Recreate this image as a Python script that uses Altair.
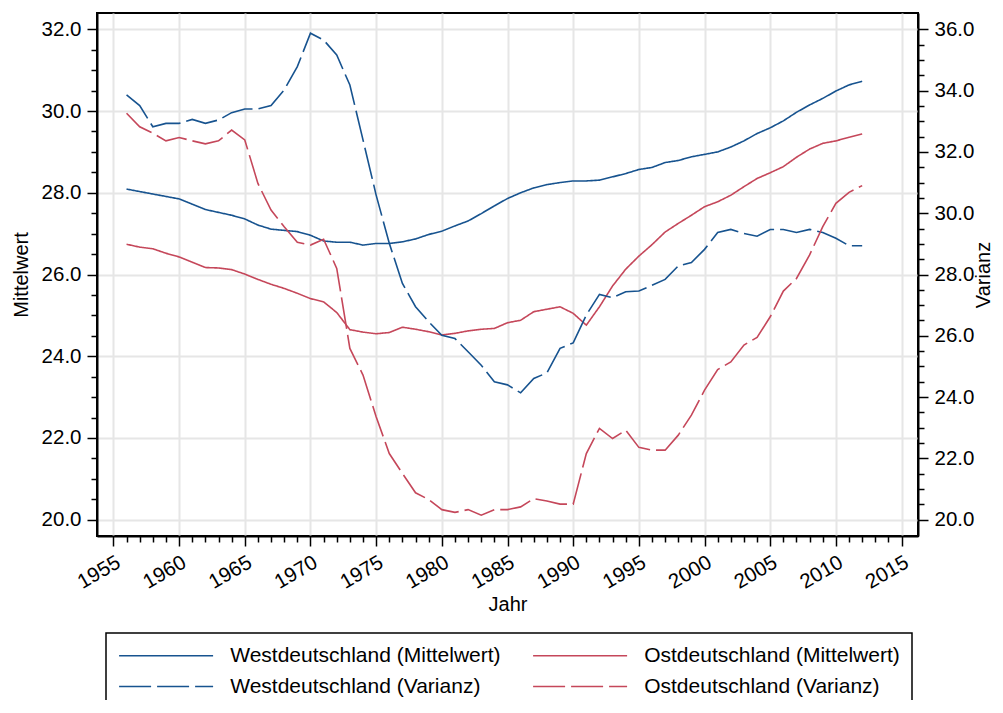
import altair as alt
import pandas as pd

# ---------------- data ----------------
years = list(range(1956, 2013))

west_mittel = [
    28.09, 28.03, 27.97, 27.91, 27.85, 27.72, 27.59, 27.52, 27.45, 27.36,
    27.21, 27.11, 27.08, 27.05, 26.96, 26.82, 26.79, 26.79, 26.72, 26.76,
    26.76, 26.80, 26.87, 26.98, 27.06, 27.19, 27.31, 27.49, 27.68, 27.86,
    28.00, 28.12, 28.20, 28.25, 28.29, 28.29, 28.31, 28.39, 28.47, 28.57,
    28.62, 28.74, 28.79, 28.88, 28.94, 29.00, 29.12, 29.27, 29.45, 29.59,
    29.76, 29.97, 30.15, 30.31, 30.49, 30.64, 30.73,
]
ost_mittel = [
    26.74, 26.67, 26.63, 26.52, 26.43, 26.30, 26.17, 26.16, 26.12, 26.01,
    25.88, 25.76, 25.66, 25.54, 25.41, 25.33, 25.07, 24.65, 24.59, 24.55,
    24.58, 24.71, 24.66, 24.60, 24.52, 24.56, 24.62, 24.66, 24.68, 24.82,
    24.88, 25.09, 25.15, 25.21, 25.05, 24.76, 25.21, 25.72, 26.13, 26.45,
    26.73, 27.04, 27.25, 27.45, 27.66, 27.78, 27.94, 28.15, 28.35, 28.49,
    28.64, 28.87, 29.07, 29.21, 29.27, 29.36, 29.44,
]
west_var = [
    33.86, 33.51, 32.82, 32.93, 32.93, 33.06, 32.93, 33.04, 33.28, 33.40,
    33.40, 33.51, 34.02, 34.78, 35.87, 35.65, 35.16, 34.18, 32.39, 30.59,
    29.02, 27.71, 26.95, 26.46, 26.02, 25.91, 25.48, 25.04, 24.50, 24.40,
    24.14, 24.61, 24.79, 25.59, 25.77, 26.68, 27.35, 27.24, 27.44, 27.46,
    27.65, 27.84, 28.28, 28.39, 28.82, 29.37, 29.47, 29.34, 29.25, 29.47,
    29.47, 29.37, 29.47, 29.37, 29.18, 28.94, 28.94,
]
ost_var = [
    33.26, 32.82, 32.61, 32.36, 32.47, 32.36, 32.26, 32.36, 32.71, 32.39,
    30.97, 30.10, 29.56, 29.05, 28.96, 29.15, 28.20, 25.59, 24.72, 23.36,
    22.16, 21.51, 20.88, 20.66, 20.33, 20.24, 20.33, 20.15, 20.33, 20.33,
    20.42, 20.69, 20.61, 20.51, 20.51, 22.16, 22.98, 22.65, 22.92, 22.36,
    22.27, 22.27, 22.76, 23.41, 24.23, 24.90, 25.15, 25.70, 25.95, 26.62,
    27.46, 27.87, 28.64, 29.56, 30.32, 30.68, 30.90,
]

S_WM = "Westdeutschland (Mittelwert)"
S_OM = "Ostdeutschland (Mittelwert)"
S_WV = "Westdeutschland (Varianz)"
S_OV = "Ostdeutschland (Varianz)"
# legend is filled column by column: column 1 = West, column 2 = Ost
series_order = [S_WM, S_WV, S_OM, S_OV]

x_ticks = list(range(1955, 2016))
y_left_ticks = [20 + 0.5 * i for i in range(25)]
y_right_ticks = [20 + 0.5 * i for i in range(33)]

# ---------------- styling ----------------
BLUE = "#17538f"
RED = "#c5475a"
FONT = "Liberation Sans"
PLOT_W, PLOT_H = 821, 523

n = len(years)
df_m = pd.DataFrame({
    "Jahr": years + years,
    "Wert": west_mittel + ost_mittel,
    "Serie": [S_WM] * n + [S_OM] * n,
})
df_v = pd.DataFrame({
    "Jahr": years + years,
    "Wert": west_var + ost_var,
    "Serie": [S_WV] * n + [S_OV] * n,
})

# long legend line drawn with a custom path so the row height stays small
SYM_SIZE = 18.8 * 18.8  # reserved symbol box ~18.8 px, path spans 5x that (94 px)
legend = alt.Legend(
    title=None,
    orient="none",
    legendX=9,
    legendY=620,
    columns=2,
    symbolType="M-5,0H5",
    symbolSize=SYM_SIZE,
    symbolStrokeWidth=1.6,
    symbolOffset=37.6,
    labelFont=FONT,
    labelFontSize=21,
    labelColor="black",
    labelOffset=53.6,
    columnPadding=28,
    rowPadding=9,
    padding=12,
    strokeColor="black",
    labelLimit=400,
)

color = alt.Color(
    "Serie:N",
    scale=alt.Scale(domain=series_order, range=[BLUE, BLUE, RED, RED]),
    legend=legend,
)
dash = alt.StrokeDash(
    "Serie:N",
    scale=alt.Scale(domain=series_order, range=[[1, 0], [32, 6], [1, 0], [32, 6]]),
    legend=legend,
)

x_enc = alt.X(
    "Jahr:Q",
    scale=alt.Scale(domain=[1953.75, 2016.25], nice=False, zero=False),
    axis=alt.Axis(
        title="Jahr",
        values=x_ticks,
        format="d",
        labelExpr="datum.value % 5 === 0 ? datum.label : ''",
        labelOverlap=False,
        labelAngle=330,
        labelAlign="right",
        labelBaseline="top",
        labelPadding=6,
        tickSize={"condition": {"test": "datum.value % 5 === 0", "value": 10}, "value": 6},
        gridOpacity={"condition": {"test": "datum.value % 5 === 0", "value": 1}, "value": 0},
        titlePadding=2,
    ),
)

left = alt.Chart(df_m).mark_line(strokeWidth=1.6).encode(
    x=x_enc,
    y=alt.Y(
        "Wert:Q",
        scale=alt.Scale(domain=[19.6, 32.4], nice=False, zero=False),
        axis=alt.Axis(
            title="Mittelwert",
            orient="left",
            values=y_left_ticks,
            labelOverlap=False,
            labelExpr="datum.value % 2 === 0 ? format(datum.value, '.1f') : ''",
            tickSize={"condition": {"test": "datum.value % 2 === 0", "value": 10}, "value": 6},
            gridOpacity={"condition": {"test": "datum.value % 2 === 0", "value": 1}, "value": 0},
            labelPadding=6,
            titlePadding=10,
        ),
    ),
    color=color,
    strokeDash=dash,
)

right = alt.Chart(df_v).mark_line(strokeWidth=1.6).encode(
    x=x_enc,
    y=alt.Y(
        "Wert:Q",
        scale=alt.Scale(domain=[19.47, 36.53], nice=False, zero=False),
        axis=alt.Axis(
            title="Varianz",
            orient="right",
            grid=False,
            values=y_right_ticks,
            labelOverlap=False,
            labelExpr="datum.value % 2 === 0 ? format(datum.value, '.1f') : ''",
            tickSize={"condition": {"test": "datum.value % 2 === 0", "value": 10}, "value": 6},
            labelPadding=6,
            titleAngle=270,
            titleBaseline="top",
            titleAlign="center",
            titleX=55,
            titleY=PLOT_H / 2,
        ),
    ),
    color=color,
    strokeDash=dash,
)

chart = (
    alt.layer(left, right)
    .resolve_scale(y="independent")
    .properties(
        width=PLOT_W,
        height=PLOT_H,
        autosize=alt.AutoSizeParams(type="none"),
        padding={"left": 89, "top": 5, "right": 77, "bottom": 164},
    )
    .configure_view(stroke="black", strokeWidth=2)
    .configure_axis(
        labelFont=FONT,
        titleFont=FONT,
        labelFontSize=20.5,
        titleFontSize=20,
        titleFontWeight="normal",
        labelColor="black",
        titleColor="black",
        domainColor="black",
        domainWidth=2,
        tickColor="black",
        tickWidth=1.5,
        gridColor="#e6e6e6",
        gridWidth=2,
    )
    .configure_legend(strokeWidth=1.5)
)

chart.save("out.html", embed_options={"renderer": "svg", "actions": False})
